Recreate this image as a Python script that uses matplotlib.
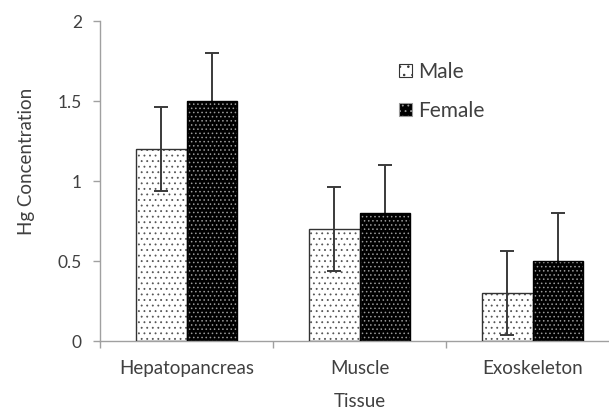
import matplotlib

matplotlib.use("Agg")
import matplotlib.pyplot as plt
import numpy as np
from matplotlib.patches import Patch

plt.rcParams["font.family"] = ["Lato", "DejaVu Sans"]
plt.rcParams["hatch.linewidth"] = 0.6

tissues = ["Hepatopancreas", "Muscle", "Exoskeleton"]
male = [1.2, 0.7, 0.3]
male_err = [0.26, 0.26, 0.26]
female = [1.5, 0.8, 0.5]
female_err = [0.3, 0.3, 0.3]

TEXT = "#404040"
AXIS = "#a0a0a0"

fig = plt.figure(figsize=(6.09, 4.12), dpi=100)
ax = fig.add_axes([100 / 609, 71 / 412, 519 / 609, 320 / 412])

x = np.arange(len(tissues))
w = 0.29

# male: white with sparse dots
ax.bar(x - w / 2, male, w, color="white", edgecolor="#555555", hatch="...",
       linewidth=0, zorder=2)
ax.bar(x - w / 2, male, w, color="none", edgecolor="#333333", linewidth=1.0,
       zorder=3)
# female: black with grey dots
ax.bar(x + w / 2, female, w, color="black", edgecolor="#9a9a9a", hatch="....",
       linewidth=0, zorder=2)
ax.bar(x + w / 2, female, w, color="none", edgecolor="black", linewidth=1.0,
       zorder=3)

ax.errorbar(x - w / 2, male, yerr=male_err, fmt="none", ecolor="#3a3a3a",
            elinewidth=1.4, capsize=5, capthick=1.4, zorder=4)
# female whiskers sit behind the black bars, only the upper part shows
ax.errorbar(x + w / 2, female, yerr=female_err, fmt="none", ecolor="#3a3a3a",
            elinewidth=1.4, capsize=5, capthick=1.4, zorder=1.5)

ax.set_xlim(-0.5, 2.5)
ax.set_ylim(0, 2)
ax.set_yticks([0, 0.5, 1, 1.5, 2])
ax.set_yticklabels(["0", "0.5", "1", "1.5", "2"])
ax.set_xticks([-0.5, 0.5, 1.5, 2.5])
ax.set_xticklabels([])
ax.set_xticks(x, minor=True)
ax.set_xticklabels(tissues, minor=True)
ax.tick_params(axis="x", which="minor", length=0, pad=14, labelsize=13.5,
               labelcolor=TEXT)
ax.tick_params(axis="x", which="major", length=5, color=AXIS, width=1)
ax.tick_params(axis="y", length=5, color=AXIS, width=1, labelsize=12.5,
               labelcolor=TEXT, pad=8)

for s in ["top", "right"]:
    ax.spines[s].set_visible(False)
for s in ["left", "bottom"]:
    ax.spines[s].set_color(AXIS)
    ax.spines[s].set_linewidth(1)

ax.set_ylabel("Hg Concentration", fontsize=13.5, color=TEXT)
ax.yaxis.set_label_coords(-0.125, 0.5625)
ax.set_xlabel("Tissue", fontsize=13.5, color=TEXT, labelpad=11)

handles = [
    Patch(facecolor="white", edgecolor="#333333", hatch="..", linewidth=0.8),
    Patch(facecolor="black", edgecolor="#9a9a9a", hatch="...", linewidth=0.8),
]
ax.legend(handles, ["Male", "Female"], loc="upper left",
          bbox_to_anchor=(0.54, 0.93), frameon=False, fontsize=15,
          handlelength=0.6, handleheight=0.6, handletextpad=0.3,
          labelspacing=0.9, labelcolor=TEXT)

fig.savefig("out.png", dpi=100)
